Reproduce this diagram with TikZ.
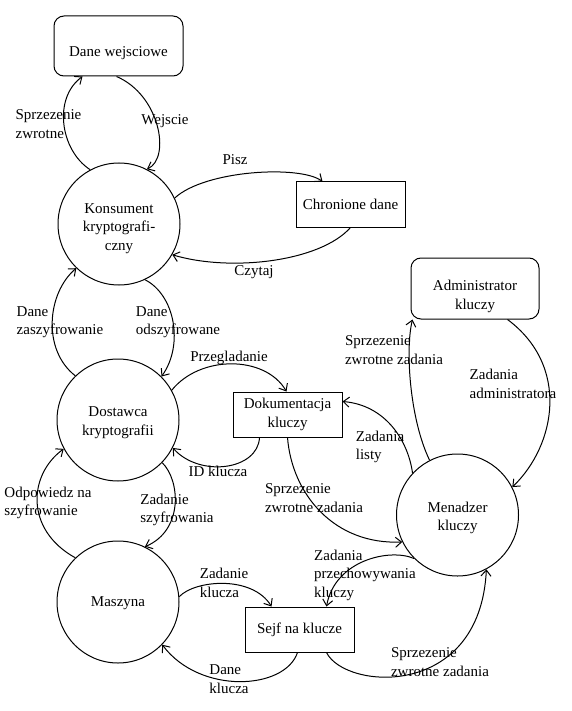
\documentclass[tikz,border=0pt]{standalone}
\usepackage{fontspec}
\setmainfont{Liberation Serif}
\usetikzlibrary{arrows.meta,calc}
\begin{document}
\begin{tikzpicture}[x=1pt,y=1pt,
  every node/.style={font=\fontsize{15}{18.5}\selectfont},
  proc/.style={draw,circle,line width=1pt,minimum size=122pt,inner sep=0pt},
  store/.style={draw,rectangle,line width=1pt,inner sep=0pt,align=center,minimum width=109pt,minimum height=45pt},
  ext/.style={draw,rectangle,rounded corners=10pt,line width=1pt,inner sep=0pt},
  caption/.style={inner sep=0pt,align=center},
  lbl/.style={align=left,inner sep=0pt},
  flow/.style={line width=1pt,-{Straight Barb[length=6pt,width=10pt]}},
]
\useasboundingbox (0,0) rectangle (572,-711);

% external entities, processes and stores
\node[ext,minimum width=129pt,minimum height=60pt] (dw) at (118.5,-46) {};
\node[caption] (dwt) at (118.5,-53) {Dane wejsciowe};
\node[proc] (kon) at (119,-224) {};
\node[caption] (kont) at (119,-228.5) {Konsument\\kryptografi-\\czny};
\node[store] (cd) at (350.5,-204.5) {Chronione dane};
\node[proc] (dos) at (118,-420) {};
\node[caption] (dost) at (118,-422.5) {Dostawca\\kryptografii};
\node[store] (dok) at (287.5,-414.5) {Dokumentacja\\kluczy};
\node[ext,minimum width=128pt,minimum height=61pt] (adm) at (475,-288.5) {};
\node[caption] (admt) at (475,-296.5) {Administrator\\kluczy};
\node[proc] (men) at (457.5,-515) {};
\node[caption] (ment) at (457.5,-518) {Menadzer\\kluczy};
\node[proc] (mas) at (118,-602) {};
\node[caption] (mast) at (118,-603.5) {Maszyna};
\node[store] (sej) at (299.5,-629.5) {Sejf na klucze};

% data flows
\draw[flow] (kon.118) .. controls (60,-150) and (53,-98) .. ($(dw.south west)+(29,0)$);
\draw[flow] ($(dw.south west)+(63,0)$) .. controls (160,-95) and (171,-158) .. (kon.63);
\draw[flow] (kon.25) .. controls (205,-170) and (300,-165) .. ($(cd.north west)+(27,0)$);
\draw[flow] ($(cd.south west)+(55,0)$) .. controls (320,-262) and (230,-272) .. (kon.-30);
\draw[flow] (dos.134) .. controls (42,-350) and (47,-293) .. (kon.-134);
\draw[flow] (kon.-65) .. controls (175,-295) and (184,-345) .. (dos.45);
\draw[flow] (dos.29) .. controls (200,-355) and (265,-355) .. ($(dok.north west)+(54,0)$);
\draw[flow] ($(dok.south west)+(27,0)$) .. controls (258,-470) and (200,-478) .. (dos.-27);
\draw[flow] (dos.-44) .. controls (180,-480) and (184,-530) .. (mas.64);
\draw[flow] (mas.134) .. controls (25,-530) and (28,-475) .. (dos.208);
\draw[flow] (mas.5) .. controls (195,-580) and (252,-575) .. ($(sej.north west)+(27,0)$);
\draw[flow] ($(sej.south west)+(53,0)$) .. controls (285,-690) and (200,-695) .. (mas.-44);
\draw[flow] ($(dok.south west)+(55,0)$) .. controls (292,-495) and (335,-545) .. (men.206);
\draw[flow] (men.137) .. controls (408,-440) and (385,-405) .. ($(dok.north east)+(0,-10)$);
\draw[flow] (men.117) .. controls (410,-420) and (405,-350) .. ($(adm.south west)+(2,0)$);
\draw[flow] ($(adm.south west)+(97,0)$) .. controls (570,-366) and (556,-445) .. (men.27);
\draw[flow] (men.225) .. controls (390,-548) and (335,-560) .. ($(sej.north west)+(82,0)$);
\draw[flow] ($(sej.south west)+(82,0)$) .. controls (345,-690) and (480,-700) .. (men.-62);

% flow labels
\node[lbl] (l1) at (48.5,-124) {Sprzezenie\\zwrotne};
\node[lbl] (l2) at (165,-121) {Wejscie};
\node[lbl] (l3) at (235,-160) {Pisz};
\node[lbl] (l4) at (254,-272) {Czytaj};
\node[lbl] (l5) at (60,-322) {Dane\\zaszyfrowanie};
\node[lbl] (l6) at (178,-322) {Dane\\odszyfrowane};
\node[lbl] (l7) at (229,-358) {Przegladanie};
\node[lbl] (l8) at (218,-471) {ID klucza};
\node[lbl] (l9) at (48,-503) {Odpowiedz na\\szyfrowanie};
\node[lbl] (l10) at (177,-510) {Zadanie\\szyfrowania};
\node[lbl] (l11) at (224,-583) {Zadanie\\klucza};
\node[lbl] (l12) at (229,-679) {Dane\\klucza};
\node[lbl] (l13) at (314,-498) {Sprzezenie\\zwrotne zadania};
\node[lbl] (l14) at (380,-447) {Zadania\\listy};
\node[lbl] (l15) at (394,-350) {Sprzezenie\\zwrotne zadania};
\node[lbl] (l16) at (513,-384) {Zadania\\administratora};
\node[lbl] (l17) at (365,-575) {Zadania\\przechowywania\\kluczy};
\node[lbl] (l18) at (440,-662) {Sprzezenie\\zwrotne zadania};
\end{tikzpicture}
\end{document}
